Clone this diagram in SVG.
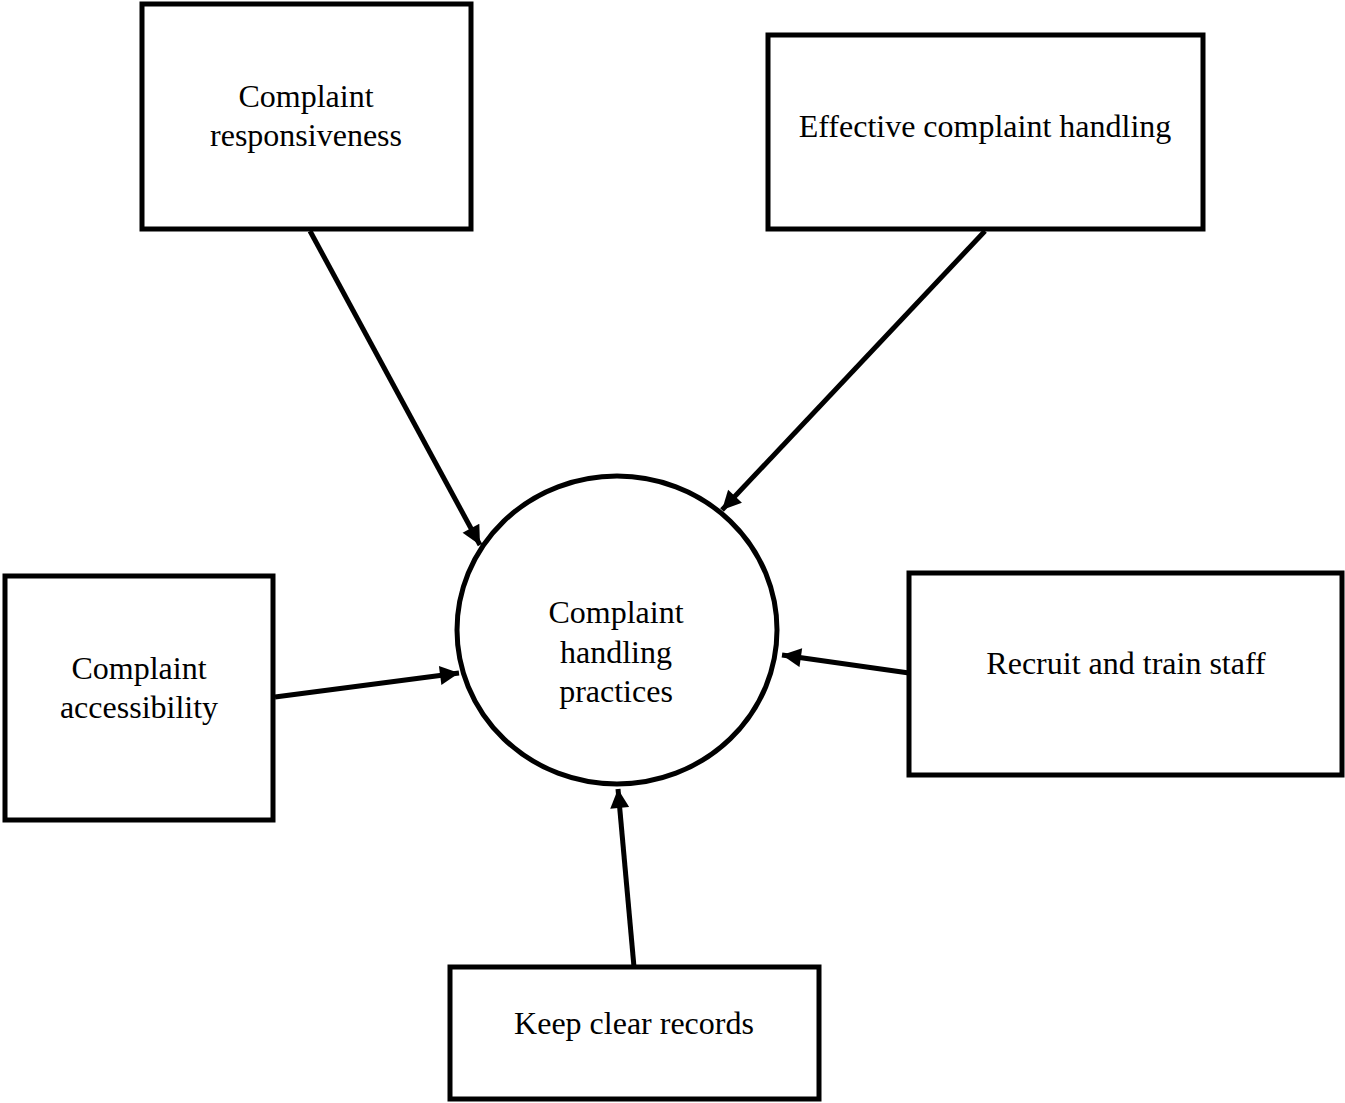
<svg xmlns="http://www.w3.org/2000/svg" width="1345" height="1103" viewBox="0 0 1345 1103">
<style>
.box{fill:#fff;stroke:#000;stroke-width:5}
.t{font-family:"Liberation Serif","Times New Roman",serif;font-size:32px;fill:#000;text-anchor:middle}
.c{stroke:#000;stroke-width:5;fill:none}
</style>
<defs>
<marker id="ah" viewBox="0 0 10 10" refX="10" refY="5" markerWidth="4.8" markerHeight="3.8" markerUnits="strokeWidth" orient="auto">
<path d="M0,0 L10,5 L0,10 z" fill="#000"/>
</marker>
</defs>
<rect width="1345" height="1103" fill="#fff"/>
<g id="n1"><rect class="box" x="142" y="4" width="329" height="225"/>
<text class="t" x="306" y="107">Complaint</text><text class="t" x="306" y="146">responsiveness</text></g>
<g id="n2"><rect class="box" x="768" y="35" width="435" height="194"/>
<text class="t" x="985" y="137">Effective complaint handling</text></g>
<g id="n3"><rect class="box" x="5" y="576" width="268" height="244"/>
<text class="t" x="139" y="679">Complaint</text><text class="t" x="139" y="718">accessibility</text></g>
<g id="n4"><rect class="box" x="909" y="573" width="433" height="202"/>
<text class="t" x="1126" y="674">Recruit and train staff</text></g>
<g id="n5"><rect class="box" x="450" y="967" width="369" height="132"/>
<text class="t" x="634" y="1034">Keep clear records</text></g>
<g id="center"><ellipse class="box" cx="617" cy="630" rx="160" ry="154"/>
<text class="t" x="616" y="623">Complaint</text><text class="t" x="616" y="663">handling</text><text class="t" x="616" y="702">practices</text></g>
<g id="connectors">
<line class="c" x1="310" y1="231" x2="480" y2="545" marker-end="url(#ah)"/>
<line class="c" x1="985" y1="231" x2="722" y2="510" marker-end="url(#ah)"/>
<line class="c" x1="275" y1="697" x2="459" y2="673" marker-end="url(#ah)"/>
<line class="c" x1="909" y1="673" x2="782" y2="655" marker-end="url(#ah)"/>
<line class="c" x1="634" y1="967" x2="618" y2="789" marker-end="url(#ah)"/>
</g>
</svg>
